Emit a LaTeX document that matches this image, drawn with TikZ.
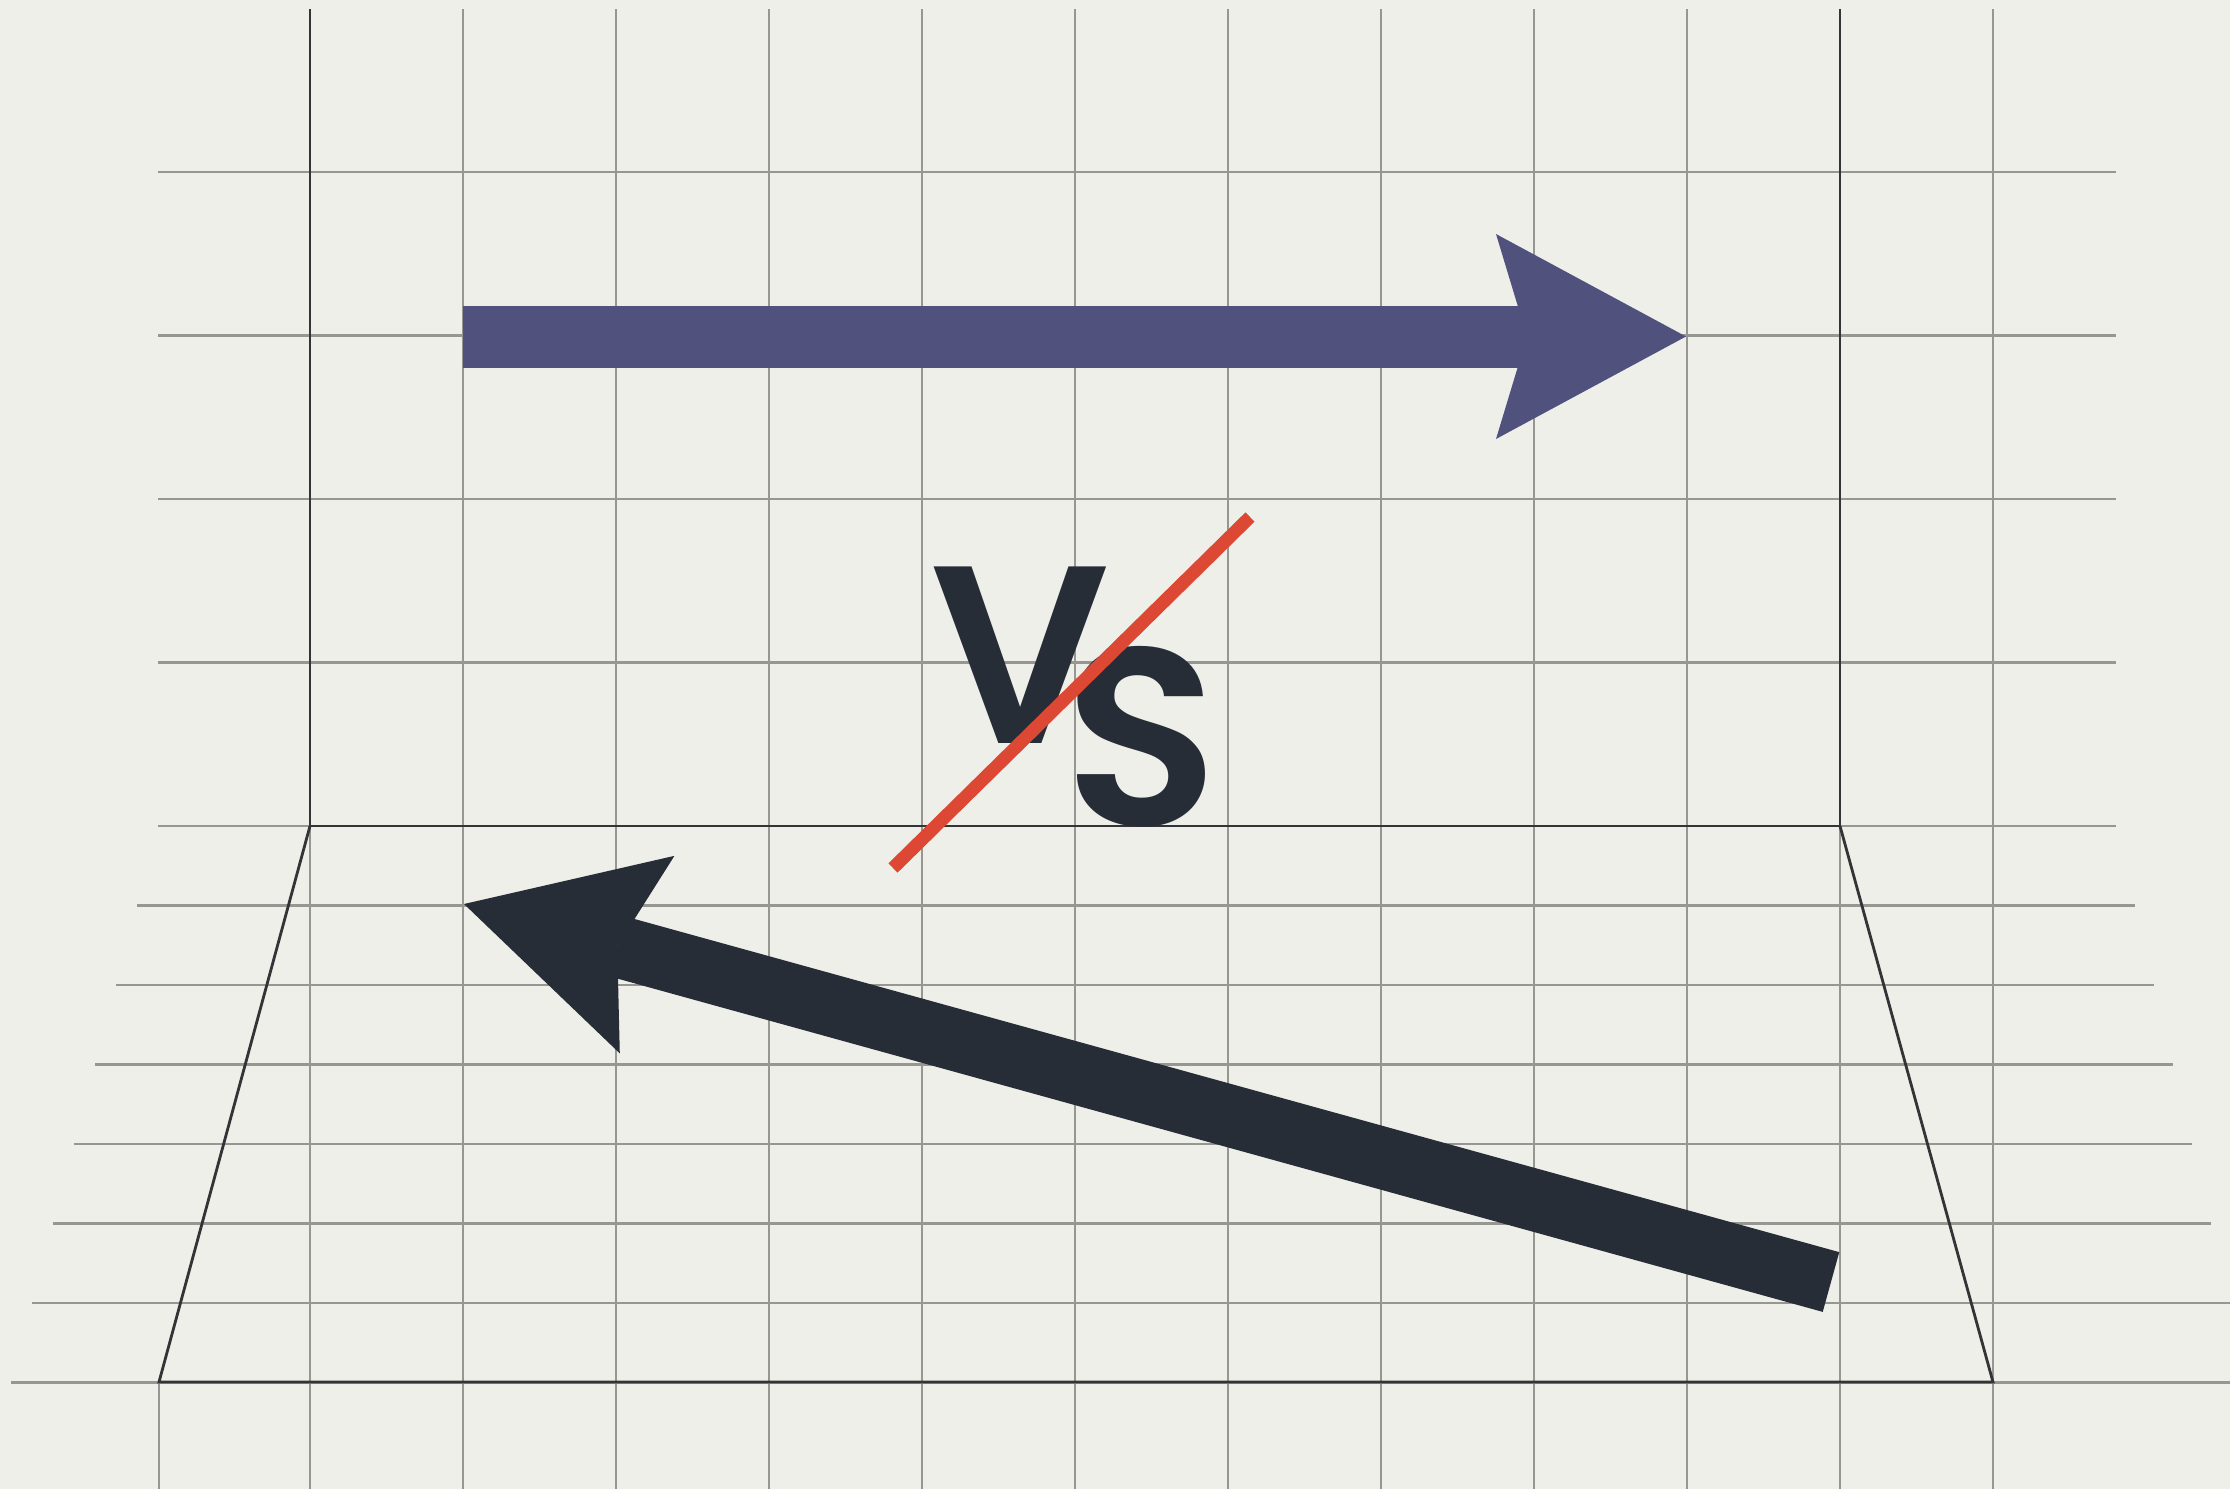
\documentclass[tikz,border=0pt]{standalone}
\usepackage{fontspec}
\usepackage{xcolor}
\usepackage{tikz}
\usetikzlibrary{arrows.meta, positioning}

\newfontfamily\vsfont{Poppins SemiBold}
\definecolor{paper}{RGB}{239,239,234}
\definecolor{gridgray}{RGB}{150,150,147}
\definecolor{floorline}{RGB}{50,52,55}
\definecolor{arrowblue}{RGB}{80,82,125}
\definecolor{arrowdark}{RGB}{39,45,55}
\definecolor{strikered}{RGB}{221,72,52}

\tikzset{
	gridline/.style={gridgray, line width=0.6pt},
	frameline/.style={floorline, line width=0.8pt},
	bigarrow/.style={line width=0.62cm,
		-{Stealth[length=1.9cm, width=2.05cm, inset=0.31cm, line width=0pt]}},
	vsletter/.style={arrowdark, inner sep=0pt, anchor=base,
		font=\vsfont\fontsize{72}{72}\selectfont},
}

\begin{document}
\begin{tikzpicture}[x=1cm, y=-1cm]
				% Paths, nodes and wires:
				\fill[paper] (0, 0) rectangle (22.30, 14.89);
				\useasboundingbox (0, 0) rectangle (22.30, 14.89);
				
				\foreach \i in {0,...,11}
					\draw[gridline] ({3.10+1.53*\i}, 0.09) -- ({3.10+1.53*\i}, 14.89);
				\draw[gridline] (1.59, 13.82) -- (1.59, 14.89);
				\foreach \y in {1.72, 3.355, 4.99, 6.625, 8.26}
					\draw[gridline] (1.58, \y) -- (21.16, \y);
				\foreach \k in {1,...,7}
					\draw[gridline] ({1.58-0.21*\k}, {8.26+0.795*\k}) -- ({21.16+0.19*\k}, {8.26+0.795*\k});
				
				\draw[frameline] (3.10, 0.09) -- (3.10, 8.26) -- (18.40, 8.26) -- (18.40, 0.09);
				\draw[frameline] (3.10, 8.26) -- (1.59, 13.82) -- (19.93, 13.82) -- (18.40, 8.26);
				
				\coordinate (fwdtail) at (4.63, 3.365);
				\coordinate (fwdtip) at (16.86, 3.365);
				\draw[bigarrow, arrowblue] (fwdtail) -- (fwdtip);
				
				\coordinate (backtail) at (18.31, 12.82);
				\coordinate (backtip) at (4.64, 9.04);
				\draw[bigarrow, arrowdark] (backtail) -- (backtip);
				
				\node[vsletter] (vee) at (10.20, 7.43){V};
				\node[vsletter] (ess) at (11.415, 8.25){S};
				
				\coordinate (strikelow) at (8.93, 8.68);
				\coordinate (strikehigh) at (12.50, 5.17);
				\draw[strikered, line width=0.13cm] (strikelow) -- (strikehigh);
			\end{tikzpicture}
\end{document}
